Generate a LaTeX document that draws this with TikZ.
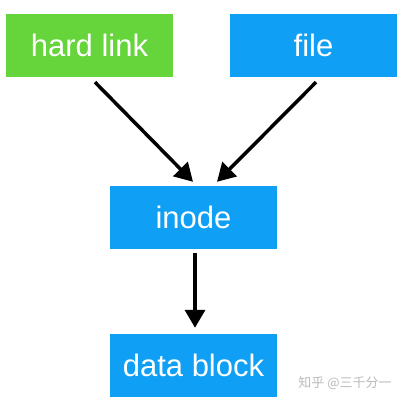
\documentclass[tikz,border=0pt]{standalone}
\usepackage{fontspec}
\setmainfont{Liberation Sans}
\newfontfamily\cjk{Noto Sans CJK SC}
\usetikzlibrary{arrows.meta}
\definecolor{boxgreen}{HTML}{66D43B}
\definecolor{boxblue}{HTML}{0FA0F5}
\begin{document}
\begin{tikzpicture}[x=1pt, y=-1pt,
		box/.style={rectangle, fill=#1, minimum width=167pt, minimum height=63pt, inner sep=0pt, text=white, font=\fontsize{31}{31}\selectfont},
		arr/.style={-{Triangle[length=18pt, width=20pt]}, line width=3.5pt}]
			\useasboundingbox (0,0) rectangle (404,404);
			\node[box=boxgreen] (hl) at ( 89.5, 45.5 ) { hard link };
			\node[box=boxblue] (f) at ( 313.5, 45.5 ) { file };
			\node[box=boxblue] (in) at ( 193.5, 217.5 ) { inode };
			\node[box=boxblue] (db) at ( 193.5, 365.5 ) { data block };
			\node[text=black!27, font=\cjk\fontsize{13}{13}\selectfont] (wm) at ( 345, 383 ) { 知乎 @三千分一 };
		
			\draw[arr]([xshift=5.5pt, yshift=-5pt]hl.south) -- ([xshift=-0.5pt, yshift=4pt]in.north);
			\draw[arr]([xshift=2.5pt, yshift=-5pt]f.south) -- ([xshift=23.5pt, yshift=4pt]in.north);
			\draw[arr]([xshift=1.5pt, yshift=-4pt]in.south) -- ([xshift=1.5pt, yshift=6pt]db.north);
		\end{tikzpicture}
\end{document}
